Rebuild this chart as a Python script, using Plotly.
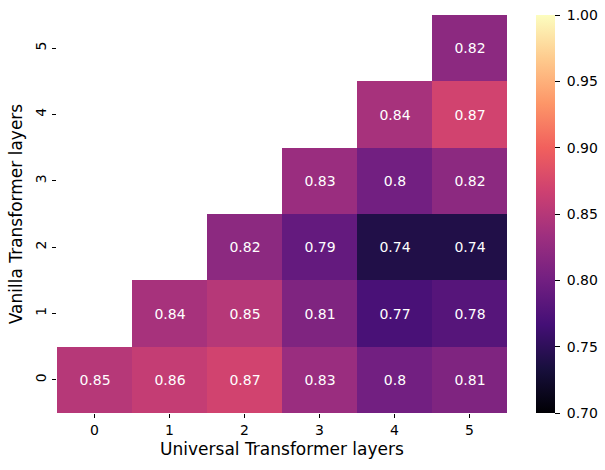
import plotly.graph_objects as go

x_labels = ["0", "1", "2", "3", "4", "5"]
y_labels = ["0", "1", "2", "3", "4", "5"]
row0 = [0.85, 0.86, 0.87, 0.83, 0.80, 0.81]
row1 = [None, 0.84, 0.85, 0.81, 0.77, 0.78]
row2 = [None, None, 0.82, 0.79, 0.74, 0.74]
row3 = [None, None, None, 0.83, 0.80, 0.82]
row4 = [None, None, None, None, 0.84, 0.87]
row5 = [None, None, None, None, None, 0.82]
z = [row0, row1, row2, row3, row4, row5]
text = [["" if v is None else format(v, ".2g") for v in r] for r in z]
cbar_ticks = [0.70, 0.75, 0.80, 0.85, 0.90, 0.95, 1.00]

FONT = "DejaVu Sans"
fig = go.Figure(go.Heatmap(
    z=z, x=[int(v) for v in x_labels], y=[int(v) for v in y_labels],
    text=text, texttemplate="%{text}",
    textfont=dict(family=FONT, size=14, color="white"),
    colorscale="Magma", zmin=0.7, zmax=1.0,
    hoverongaps=False,
    colorbar=dict(
        thickness=19, len=1.0, lenmode="fraction", y=0.5, yanchor="middle",
        x=1.0644, xanchor="left", xpad=0, ypad=0, outlinewidth=0,
        ticks="outside", ticklen=5, tickwidth=1, tickcolor="black",
        tickvals=cbar_ticks,
        ticktext=["\u00a0" + format(v, ".2f") for v in cbar_ticks],
        tickfont=dict(family=FONT, size=14, color="black"),
    ),
))
fig.update_layout(
    width=605, height=470,
    margin=dict(l=57, r=98, t=15, b=57, autoexpand=False),
    paper_bgcolor="white", plot_bgcolor="white",
    font=dict(family=FONT, color="black"),
)
fig.update_xaxes(
    range=[-0.5, 5.5], tickvals=list(range(6)), ticktext=x_labels,
    showgrid=False, zeroline=False, showline=False,
    ticks="outside", ticklen=4, tickcolor="black",
    tickfont=dict(family=FONT, size=14),
    title=dict(text="Universal Transformer layers", font=dict(family=FONT, size=17), standoff=6),
)
fig.update_yaxes(
    range=[-0.5, 5.5], tickvals=list(range(6)), ticktext=y_labels,
    showgrid=False, zeroline=False, showline=False,
    ticks="outside", ticklen=4, tickcolor="black", tickangle=-90,
    tickfont=dict(family=FONT, size=14),
    title=dict(text="Vanilla Transformer layers", font=dict(family=FONT, size=17), standoff=6),
)
fig.write_html("out.html", config={"displayModeBar": False},
               post_script="document.body.style.margin='0';")
